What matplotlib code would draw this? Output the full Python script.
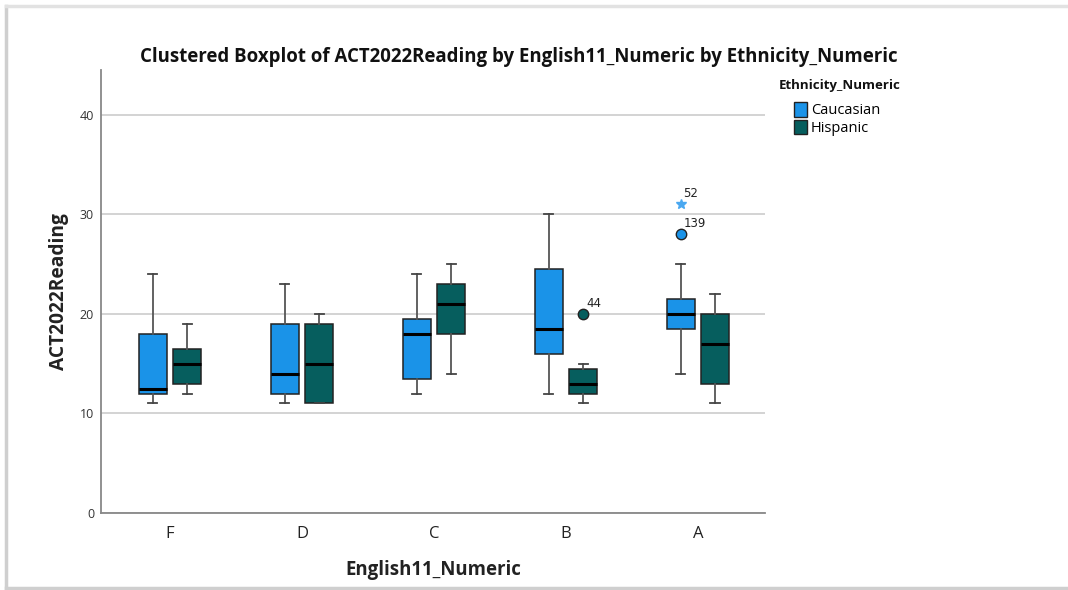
import matplotlib
matplotlib.use('Agg')
import matplotlib.pyplot as plt
from matplotlib.patches import Patch
from matplotlib.lines import Line2D

# ---- data ----
categories = ['F', 'D', 'C', 'B', 'A']
groups = ['Caucasian', 'Hispanic']

cauc_whislo = [11, 11, 12, 12, 14]
cauc_q1 = [12, 12, 13.5, 16, 18.5]
cauc_med = [12.5, 14, 18, 18.5, 20]
cauc_q3 = [18, 19, 19.5, 24.5, 21.5]
cauc_whishi = [24, 23, 24, 30, 25]

hisp_whislo = [12, 11, 14, 11, 11]
hisp_q1 = [13, 11, 18, 12, 13]
hisp_med = [15, 15, 21, 13, 17]
hisp_q3 = [16.5, 19, 23, 14.5, 20]
hisp_whishi = [19, 20, 25, 15, 22]

outlier_cat = ['A', 'A', 'B']
outlier_group = ['Caucasian', 'Caucasian', 'Hispanic']
outlier_val = [31, 28, 20]
outlier_id = ['52', '139', '44']
outlier_kind = ['extreme', 'outlier', 'outlier']

y_ticks = [0, 10, 20, 30, 40]

# ---- style ----
colors = {'Caucasian': '#1a93e8', 'Hispanic': '#065e5e'}
star_color = '#4aa8f0'
offsets = {'Caucasian': -0.13, 'Hispanic': 0.13}
box_w = 0.21

plt.rcParams['font.family'] = ['Open Sans', 'DejaVu Sans']

fig = plt.figure(figsize=(10.68, 5.90), dpi=100)
ax = fig.add_axes([101 / 1068, 1 - 513 / 590, (765 - 101) / 1068, (513 - 70) / 590])

series = {
    'Caucasian': (cauc_whislo, cauc_q1, cauc_med, cauc_q3, cauc_whishi),
    'Hispanic': (hisp_whislo, hisp_q1, hisp_med, hisp_q3, hisp_whishi),
}

for g in groups:
    lo, q1, med, q3, hi = series[g]
    stats = []
    for i in range(len(categories)):
        stats.append(dict(whislo=lo[i], q1=q1[i], med=med[i], q3=q3[i],
                          whishi=hi[i], fliers=[]))
    pos = [i + offsets[g] for i in range(len(categories))]
    ax.bxp(stats, positions=pos, widths=box_w, patch_artist=True,
           showfliers=False, capwidths=0.07,
           boxprops=dict(facecolor=colors[g], edgecolor='#222222', linewidth=1.1),
           medianprops=dict(color='black', linewidth=2.2),
           whiskerprops=dict(color='#555555', linewidth=1.3),
           capprops=dict(color='#444444', linewidth=1.3),
           zorder=3)

for c, g, v, lab, k in zip(outlier_cat, outlier_group, outlier_val, outlier_id, outlier_kind):
    x = categories.index(c) + offsets[g]
    if k == 'extreme':
        ax.plot(x, v, marker='*', color=star_color, markersize=7, linestyle='none', zorder=4)
    else:
        ax.plot(x, v, marker='o', markerfacecolor=colors[g], markeredgecolor='#222222',
                markersize=7.5, linestyle='none', zorder=4)
    ax.annotate(lab, (x, v), xytext=(2, 3), textcoords='offset points',
                fontsize=8.5, color='#222222', ha='left', va='bottom',
                family=['DejaVu Sans'])

ax.set_xlim(-0.523, 4.508)
ax.set_ylim(0, 44.5)
ax.set_xticks(range(len(categories)))
ax.set_xticklabels(categories, fontsize=12, color='#222222')
ax.set_yticks(y_ticks)
ax.set_yticklabels([str(t) for t in y_ticks], fontsize=9, color='#333333')
ax.tick_params(axis='both', length=0)
ax.tick_params(axis='y', pad=5)
ax.tick_params(axis='x', pad=9)
ax.grid(axis='y', color='#c8c8c8', linewidth=1.1, zorder=0)
ax.set_axisbelow(True)
for s in ['top', 'right']:
    ax.spines[s].set_visible(False)
for s in ['left', 'bottom']:
    ax.spines[s].set_color('#888888')
    ax.spines[s].set_linewidth(1.3)

ax.set_ylabel('ACT2022Reading', fontsize=13.8, fontweight='bold', color='#222222', labelpad=8)
ax.set_xlabel('English11_Numeric', fontsize=13.4, fontweight='bold', color='#222222', labelpad=13)

fig.text(0.486, 1 - 57 / 590, 'Clustered Boxplot of ACT2022Reading by English11_Numeric by Ethnicity_Numeric',
         ha='center', va='center', fontsize=13.4, fontweight='bold', color='#111111',
         family=['Liberation Sans Narrow', 'Open Sans', 'DejaVu Sans'])

fig.text(779 / 1068, 1 - 86 / 590, 'Ethnicity_Numeric', ha='left', va='center',
         fontsize=9.5, fontweight='bold', color='#111111')
handles = [Patch(facecolor=colors[g], edgecolor='#222222', label=g) for g in groups]
leg = fig.legend(handles=handles, loc='upper left',
                 bbox_to_anchor=(784 / 1068, 1 - 92 / 590), frameon=False,
                 fontsize=10.5, handlelength=0.85, handleheight=1.15, handletextpad=0.3,
                 labelspacing=0.1, borderpad=0.2)

# outer frame of the exported chart
fig.add_artist(Line2D([6 / 1068, 6 / 1068], [1 - 588 / 590, 1 - 6 / 590], color='#cfcfcf', linewidth=2.5))
fig.add_artist(Line2D([6 / 1068, 1.0], [1 - 6 / 590, 1 - 6 / 590], color='#e2e2e2', linewidth=2.5))
fig.add_artist(Line2D([6 / 1068, 1.0], [1 - 588 / 590, 1 - 588 / 590], color='#cfcfcf', linewidth=2.5))

fig.savefig('out.png', dpi=100)
